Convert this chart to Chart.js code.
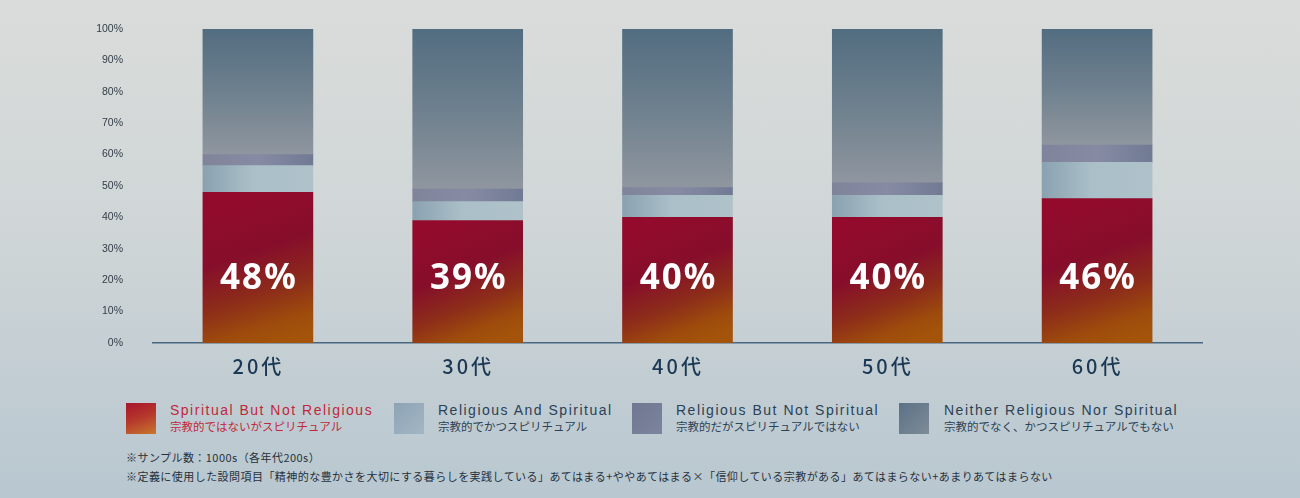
<!DOCTYPE html>
<html>
<head>
<meta charset="utf-8">
<script src="https://cdn.jsdelivr.net/npm/chart.js@4"></script>
<style>
  body {
    margin: 0;
    width: 1300px;
    height: 498px;
    overflow: hidden;
    position: relative;
    background: linear-gradient(180deg, #d9dcda 0%, #d0d6d7 45%, #b8c7d0 100%);
    font-family: "Liberation Sans", "Noto Sans CJK JP", sans-serif;
  }
  #wrap { position: absolute; left: 0; top: 0; width: 1300px; height: 390px; }
  .sq { position: absolute; top: 403px; width: 30px; height: 31px; }
  .en { position: absolute; top: 403px; font-size: 14px; line-height: 14px; letter-spacing: 1.5px; color: #2b4256; white-space: nowrap; }
  .ja { position: absolute; top: 420px; font-family: "Noto Sans CJK JP", sans-serif; font-size: 11.5px; line-height: 12px; letter-spacing: 0px; color: #2b4256; white-space: nowrap; }
  .note { position: absolute; left: 126px; font-family: "Noto Sans CJK JP", sans-serif; font-size: 11px; line-height: 11px; letter-spacing: 0.45px; color: #27313c; white-space: nowrap; }
</style>
</head>
<body>
<div id="wrap"><canvas id="chart"></canvas></div>
<div id="legend"></div>
<div class="note" style="top:452px">※サンプル数：1000s（各年代200s）</div>
<div class="note" style="top:471px">※定義に使用した設問項目「精神的な豊かさを大切にする暮らしを実践している」あてはまる+ややあてはまる×「信仰している宗教がある」あてはまらない+あまりあてはまらない</div>

<script>
// age groups
const categories = ['20代', '30代', '40代', '50代', '60代'];

// shares in % (bottom to top)
const spiritualNotReligious = [48, 39, 40, 40, 46];
const religiousAndSpiritual = [8.5, 6, 7, 7, 11.5];
const religiousNotSpiritual = [3.5, 4, 2.5, 4, 5.5];
const neither = [40, 51, 50.5, 49, 37];

const seriesEn = ['Spiritual But Not Religious', 'Religious And Spiritual', 'Religious But Not Spiritual', 'Neither Religious Nor Spiritual'];
const seriesJa = ['宗教的ではないがスピリチュアル', '宗教的でかつスピリチュアル', '宗教的だがスピリチュアルではない', '宗教的でなく、かつスピリチュアルでもない'];

const yTicks = [0, 10, 20, 30, 40, 50, 60, 70, 80, 90, 100];

const allSeries = [spiritualNotReligious, religiousAndSpiritual, religiousNotSpiritual, neither];

// legend (html)
const legendPos = [[126, 170], [394, 438], [632, 676], [899, 944]];
const legendSwatch = [
    'linear-gradient(160deg, #a8142c 0%, #b63a2c 50%, #c8782e 100%)',
    'linear-gradient(135deg, #8da3b5 0%, #a3b6c3 100%)',
    'linear-gradient(135deg, #6f7792 0%, #7d849c 100%)',
    'linear-gradient(135deg, #5a7286 0%, #7f8b98 100%)'
];
const legend = document.getElementById('legend');
seriesEn.forEach((name, i) => {
    const sq = document.createElement('div');
    sq.className = 'sq';
    sq.style.left = legendPos[i][0] + 'px';
    sq.style.background = legendSwatch[i];
    legend.appendChild(sq);
    const en = document.createElement('div');
    en.className = 'en';
    en.style.left = legendPos[i][1] + 'px';
    en.textContent = name;
    const ja = document.createElement('div');
    ja.className = 'ja';
    ja.style.left = legendPos[i][1] + 'px';
    ja.textContent = seriesJa[i];
    if (i === 0) { en.style.color = '#c0283a'; ja.style.color = '#c0283a'; }
    legend.appendChild(en);
    legend.appendChild(ja);
});

// gradient for one stacked segment
function segment(ds, i, chart) {
    const x = chart.scales.x, y = chart.scales.y;
    let start = 0;
    for (let k = 0; k < ds; k++) start += allSeries[k][i];
    const end = start + allSeries[ds][i];
    return {
        xc: x.getPixelForValue(i),
        top: y.getPixelForValue(end),
        bottom: y.getPixelForValue(start)
    };
}

const fallback = ['#8e0b2d', '#a3b7c2', '#7a809a', '#647a8b'];

function fillFor(ds) {
    return function (c) {
        const chart = c.chart;
        if (!chart.chartArea || c.dataIndex === undefined) return fallback[ds];
        const s = segment(ds, c.dataIndex, chart);
        const ctx = chart.ctx;
        let g;
        if (ds === 0) {
            g = ctx.createLinearGradient(s.xc - 25, s.top, s.xc + 25, s.bottom);
            g.addColorStop(0, '#940a2c');
            g.addColorStop(0.4, '#860e2b');
            g.addColorStop(0.66, '#8c2c1a');
            g.addColorStop(0.87, '#9e4c0c');
            g.addColorStop(1, '#a4540a');
        } else if (ds === 1) {
            g = ctx.createLinearGradient(s.xc - 55, 0, s.xc + 55, 0);
            g.addColorStop(0, '#8aa2b0');
            g.addColorStop(0.45, '#aabfc8');
            g.addColorStop(1, '#afc2ca');
        } else if (ds === 2) {
            g = ctx.createLinearGradient(s.xc - 55, 0, s.xc + 55, 0);
            g.addColorStop(0, '#80849b');
            g.addColorStop(0.5, '#868ba3');
            g.addColorStop(1, '#717a94');
        } else {
            g = ctx.createLinearGradient(0, s.top, 0, s.bottom);
            g.addColorStop(0, '#526d80');
            g.addColorStop(0.5, '#6e808e');
            g.addColorStop(1, '#8f969f');
        }
        return g;
    };
}

// big white % labels in the red bars
const LABEL_AT = 20.4;
const percentLabels = {
    id: 'percentLabels',
    afterDatasetsDraw(chart) {
        const ctx = chart.ctx;
        const y = chart.scales.y.getPixelForValue(LABEL_AT);
        ctx.save();
        ctx.font = 'bold 35px "Noto Sans", sans-serif';
        ctx.fillStyle = '#ffffff';
        ctx.textAlign = 'center';
        ctx.textBaseline = 'middle';
        ctx.letterSpacing = '2px';
        chart.getDatasetMeta(0).data.forEach((bar, i) => {
            ctx.fillText(spiritualNotReligious[i] + '%', bar.x + 1, y);
        });
        ctx.restore();
    }
};

// category labels with letter spacing
const categoryLabels = {
    id: 'categoryLabels',
    afterDraw(chart) {
        const ctx = chart.ctx;
        const x = chart.scales.x;
        ctx.save();
        ctx.font = '500 20px "Noto Sans CJK JP", sans-serif';
        ctx.fillStyle = '#1b3855';
        ctx.textAlign = 'center';
        ctx.textBaseline = 'middle';
        ctx.letterSpacing = '3px';
        chart.data.labels.forEach((lab, i) => {
            ctx.fillText(lab, x.getPixelForValue(i) + 0.5, chart.chartArea.bottom + 23);
        });
        ctx.restore();
    }
};

new Chart(document.getElementById('chart'), {
    type: 'bar',
    data: {
        labels: categories,
        datasets: allSeries.map((d, k) => ({
            label: seriesEn[k],
            data: d,
            backgroundColor: fillFor(k),
            borderWidth: 0,
            barThickness: 110
        }))
    },
    options: {
        responsive: true,
        maintainAspectRatio: false,
        animation: false,
        layout: { padding: { top: 29, right: 98, left: 0, bottom: 0 } },
        plugins: {
            legend: { display: false },
            tooltip: { enabled: false }
        },
        scales: {
            x: {
                stacked: true,
                grid: { display: false, drawTicks: false },
                border: { display: true, color: '#4a6780', width: 1.5 },
                ticks: { color: 'rgba(0,0,0,0)', font: { size: 20 } },
                afterFit(scale) { scale.height = 47; scale.paddingLeft = 0; scale.paddingRight = 0; }
            },
            y: {
                stacked: true,
                min: 0,
                max: 100,
                grid: { display: false, drawTicks: false },
                border: { display: false },
                afterBuildTicks(scale) { scale.ticks = yTicks.map(v => ({ value: v })); },
                ticks: {
                    padding: 30,
                    color: '#333d48',
                    font: { family: '"Liberation Sans", sans-serif', size: 10.5 },
                    callback: v => v + '%'
                },
                afterFit(scale) { scale.width = 153; scale.paddingTop = 0; scale.paddingBottom = 0; }
            }
        }
    },
    plugins: [percentLabels, categoryLabels]
});
</script>
</body>
</html>
